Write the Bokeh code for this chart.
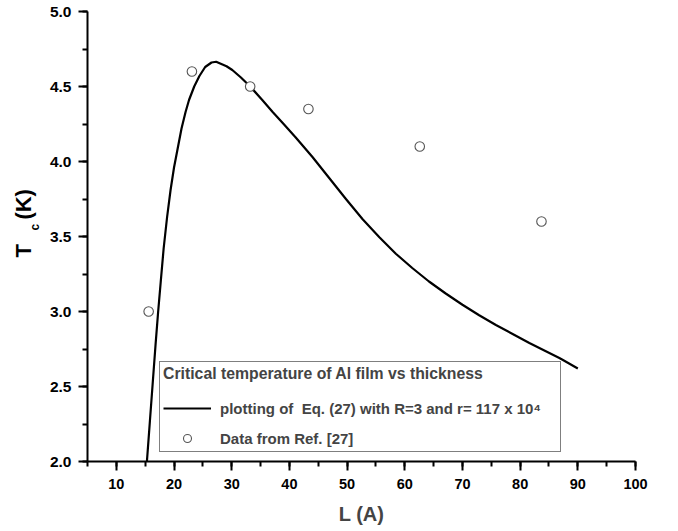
from bokeh.plotting import figure
from bokeh.models import Range1d, Legend, LegendItem, FixedTicker, CustomJSTickFormatter, Title
from bokeh.embed import file_html
from bokeh.resources import INLINE

# Data
curve_L = [15.3, 15.8, 16.3, 16.8, 17.25, 17.7, 18.2, 18.8, 19.4, 20.0, 20.6, 21.3, 22.0,
           22.6, 23.5, 24.4, 25.4, 26.5, 27.3, 28.2, 29.1, 30.1, 31.6, 33.2, 35.3, 37.1,
           39.0, 41.1, 44.0, 46.9, 49.8, 52.7, 55.6, 58.45, 61.3, 64.2, 67.1, 70.0, 72.9,
           75.8, 78.7, 81.6, 84.2, 86.8, 87.5, 90.0]
curve_Tc = [2.0, 2.26, 2.52, 2.78, 3.0, 3.2, 3.42, 3.63, 3.81, 3.96, 4.08, 4.22, 4.33,
            4.41, 4.50, 4.57, 4.63, 4.66, 4.665, 4.65, 4.635, 4.61, 4.56, 4.50, 4.41, 4.33,
            4.25, 4.16, 4.03, 3.89, 3.75, 3.615, 3.495, 3.385, 3.29, 3.20, 3.12, 3.045, 2.975,
            2.91, 2.85, 2.79, 2.74, 2.69, 2.675, 2.62]

data_L = [15.6, 23.1, 33.2, 43.3, 62.6, 83.7]
data_Tc = [3.0, 4.6, 4.5, 4.35, 4.1, 3.6]

x_ticks = [10, 20, 30, 40, 50, 60, 70, 80, 90, 100]
y_ticks = [2.0, 2.5, 3.0, 3.5, 4.0, 4.5, 5.0]

legend_title = "Critical temperature of Al film vs thickness"
curve_label = "plotting of  Eq. (27) with R=3 and r= 117 x 10\u2074"
data_label = "Data from Ref. [27]"

FONT = "Liberation Sans"

p = figure(frame_width=548, frame_height=450,
           min_border_left=87, min_border_top=11, min_border_right=27, min_border_bottom=54,
           x_range=Range1d(5, 100), y_range=Range1d(2, 5),
           output_backend="svg", toolbar_location=None)
p.outline_line_color = None
p.xgrid.visible = False
p.ygrid.visible = False
p.background_fill_color = "white"

r_line = p.line(curve_L, curve_Tc, line_color="black", line_width=2.2, line_join="round")
r_pts = p.scatter(data_L, data_Tc, marker="circle", size=9.5, fill_color="white",
                  line_color="#555555", line_width=1.1)

for ax in (p.xaxis[0], p.yaxis[0]):
    ax.axis_line_width = 2
    ax.axis_line_color = "black"
    ax.major_tick_line_width = 2
    ax.minor_tick_line_width = 2
    ax.major_tick_in = 0
    ax.minor_tick_in = 0
    ax.major_tick_out = 9
    ax.minor_tick_out = 5
    ax.major_label_text_font = FONT
    ax.major_label_text_font_style = "bold"
    ax.major_label_text_color = "black"
p.xaxis.major_label_text_font_size = "14.5px"
p.yaxis.major_label_text_font_size = "15.5px"

p.xaxis.ticker = FixedTicker(ticks=x_ticks, minor_ticks=[5 + 5 * i for i in range(20)])
p.yaxis.ticker = FixedTicker(ticks=y_ticks, minor_ticks=[2 + 0.25 * i for i in range(13)])
p.yaxis.formatter = CustomJSTickFormatter(code="return tick.toFixed(1)")
p.xaxis.major_label_standoff = 8
p.yaxis.major_label_standoff = 7

p.xaxis.axis_label = "L (A)"
p.xaxis.axis_label_text_font = FONT
p.xaxis.axis_label_text_font_style = "bold"
p.xaxis.axis_label_text_font_size = "20px"
p.xaxis.axis_label_standoff = 11

# y axis title: "T" with subscript "c", then "(K)"
title_c = Title(text="c", align="left", offset=231, standoff=6, vertical_align="top",
                text_font=FONT, text_font_style="bold", text_font_size="12px", text_color="black")
title_T = Title(text="T\u00a0\u00a0\u00a0\u00a0(K)", align="left", offset=204, standoff=-22,
                vertical_align="bottom",
                text_font=FONT, text_font_style="bold", text_font_size="22px", text_color="black")
p.add_layout(title_c, "left")
p.add_layout(title_T, "left")

legend = Legend(items=[LegendItem(label=curve_label, renderers=[r_line]),
                       LegendItem(label=data_label, renderers=[r_pts])],
                location=(72, 9), title=legend_title)
legend.title_text_font = FONT
legend.title_text_font_style = "bold"
legend.title_text_font_size = "15.8px"
legend.title_standoff = 15
legend.label_text_font = FONT
legend.label_text_font_style = "bold"
legend.label_text_font_size = "15px"
legend.glyph_width = 48
legend.glyph_height = 20
legend.label_standoff = 9
legend.label_width = 337
legend.spacing = 10
legend.padding = 3
legend.margin = 0
legend.border_line_color = "black"
legend.border_line_width = 1.5
legend.background_fill_alpha = 1
p.add_layout(legend, "center")

open("out.html", "w").write(file_html(p, INLINE))
